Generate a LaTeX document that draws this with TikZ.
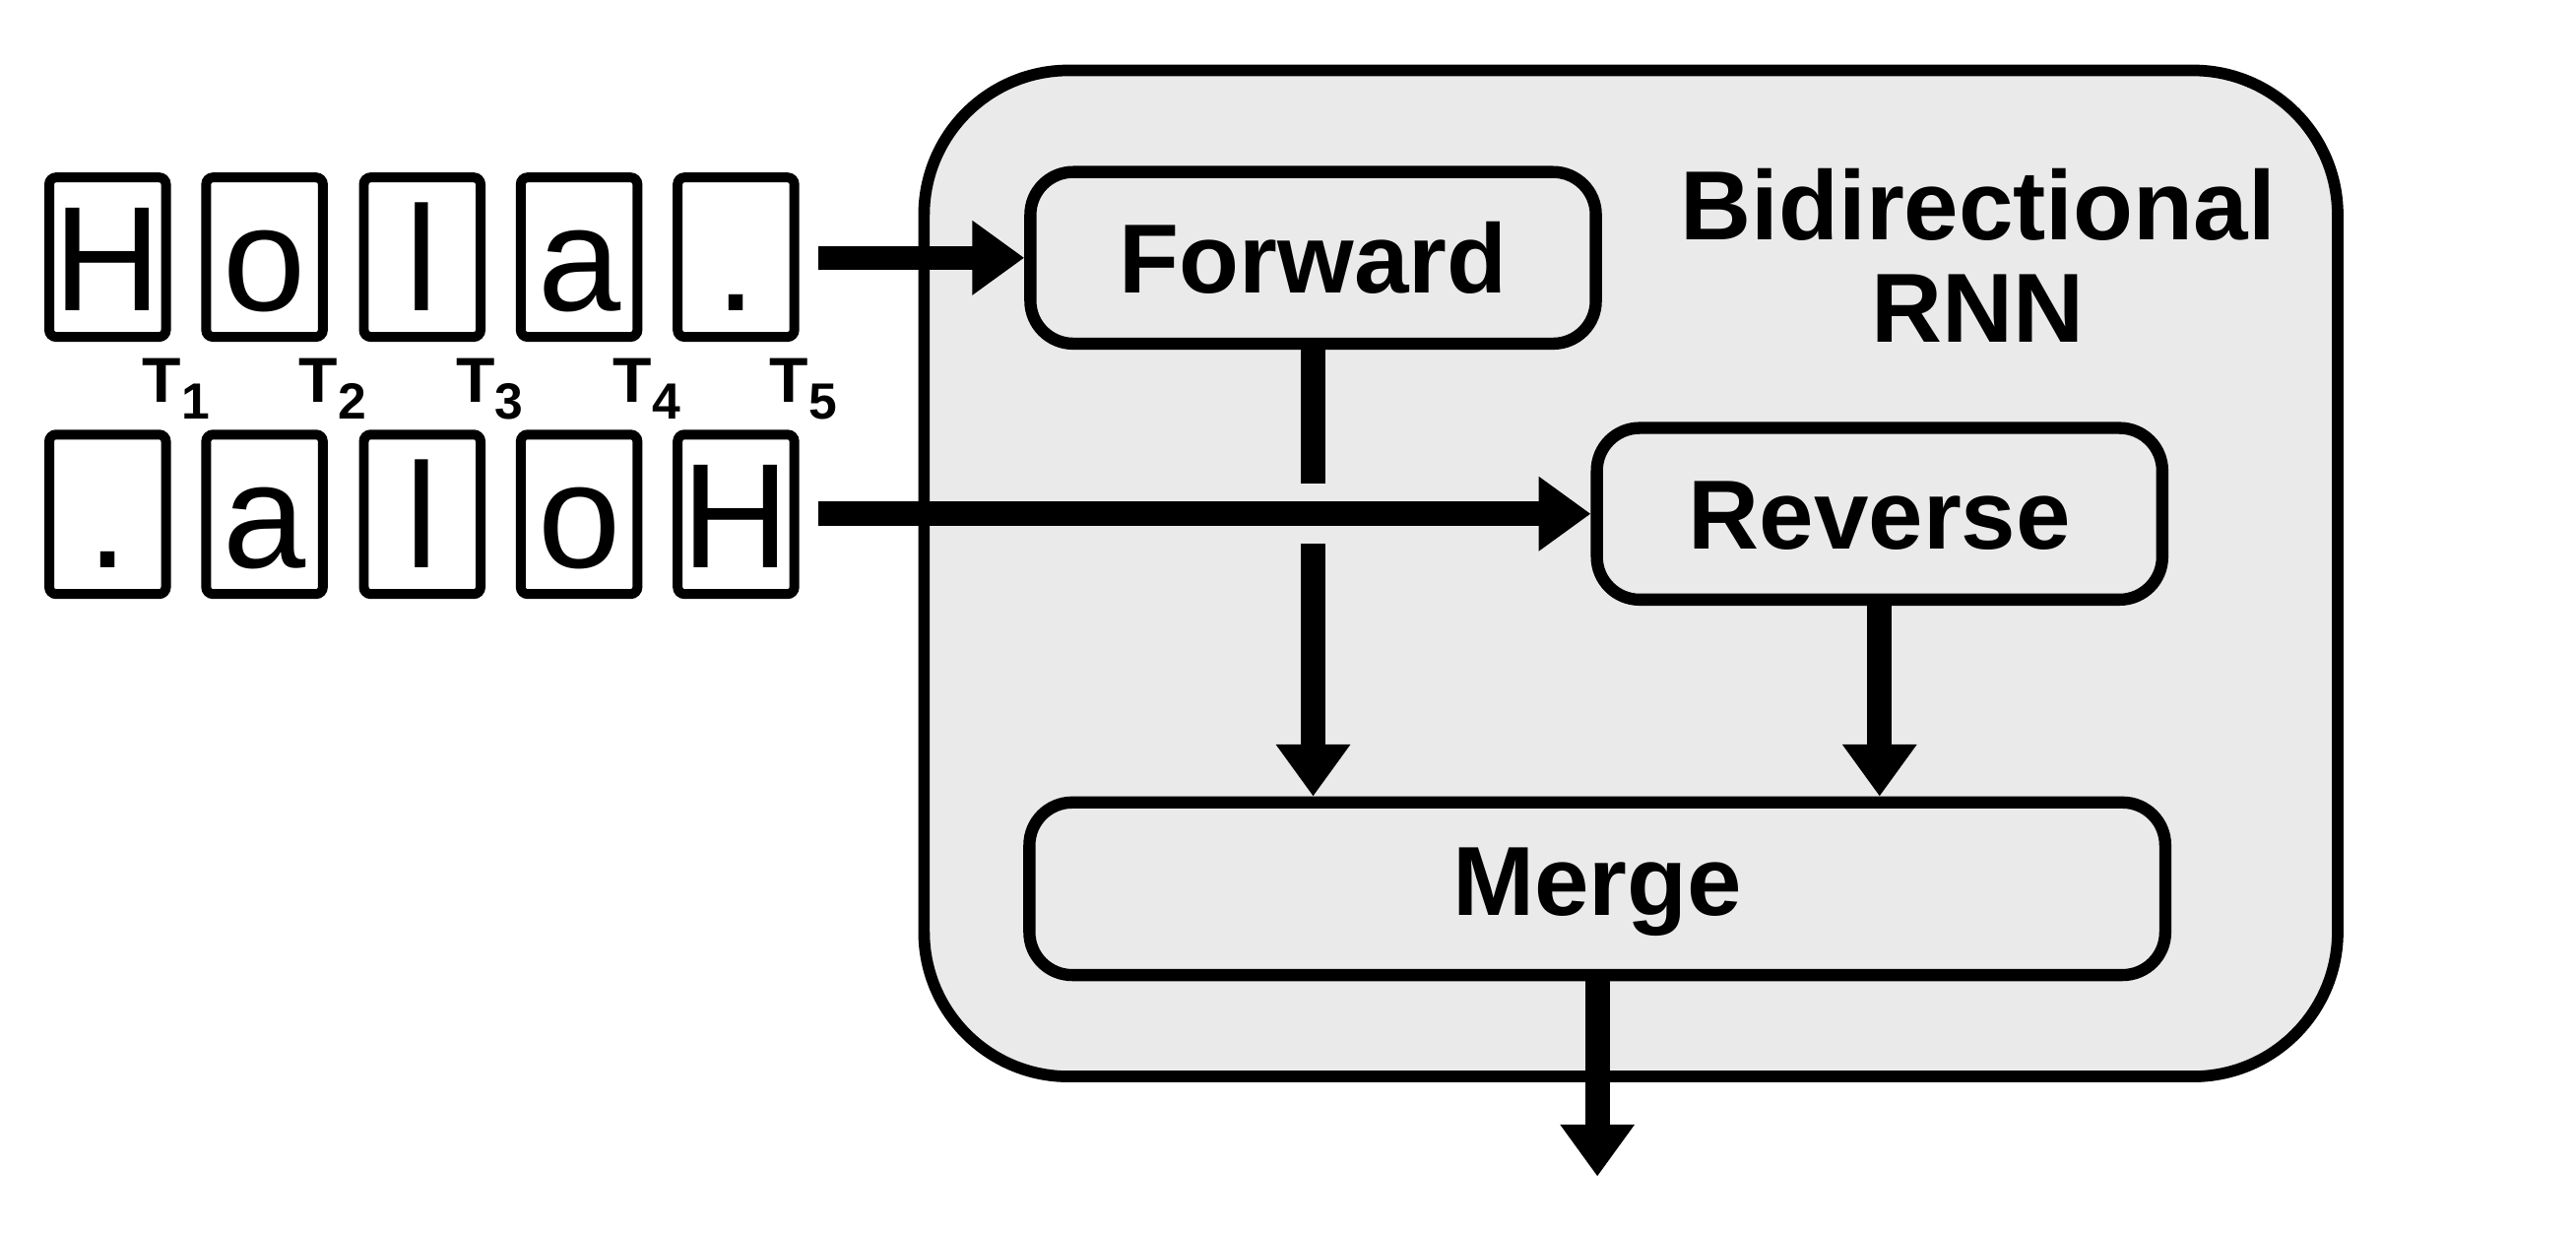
\documentclass[tikz,border=0pt]{standalone}
\usepackage{fontspec}
\setmainfont{Liberation Sans}
\usetikzlibrary{arrows.meta}
\definecolor{bg}{HTML}{EAEAEA}
\begin{document}
\begin{tikzpicture}[x=0.01cm,y=-0.01cm,
 letter/.style={draw, line width=1.7pt, fill=white, rounded corners=1.2pt, minimum width=0.71cm, minimum height=0.97cm, inner sep=0pt, font=\fontsize{25.8}{26}\selectfont, text height=18.5pt, text depth=0pt},
 block/.style={draw, line width=2.1pt, fill=bg, rounded corners=0.26cm, inner sep=0pt, font=\bfseries\fontsize{17}{17.6}\selectfont, text height=12.2pt, text depth=0pt},
 title/.style={anchor=base, inner sep=0pt, font=\bfseries\fontsize{17}{17.6}\selectfont},
 tlab/.style={anchor=base west, inner sep=0pt, font=\bfseries\fontsize{11}{11}\selectfont},
 conn/.style={line width=4.3pt, -{Triangle[length=9pt,width=12.3pt]}},
]
\useasboundingbox (0,0) rectangle (1568,750);
% outer container
\node[draw, line width=2pt, fill=bg, rounded corners=0.88cm, minimum width=8.60cm, minimum height=6.12cm] (rnn) at (992.7,349) {};
\node[title] (title1) at (1204,146) {Bidirectional};
\node[title] (title2) at (1204,208) {RNN};
% blocks
\node[block, minimum width=3.44cm, minimum height=1.044cm] (fwd) at (799.3,156.9) {Forward};
\node[block, minimum width=3.44cm, minimum height=1.044cm] (rev) at (1144.1,312.7) {Reverse};
\node[block, minimum width=6.91cm, minimum height=1.05cm, text depth=2.84pt] (mrg) at (972.3,540.9) {Merge};
% letters
\node[letter] (a1) at (65.5,156.5) {H};
\node[letter] (a2) at (161,156.5) {o};
\node[letter] (a3) at (257,156.5) {l};
\node[letter] (a4) at (352.5,156.5) {a};
\node[letter] (a5) at (448,156.5) {.};
\node[letter] (b1) at (65.5,313) {.};
\node[letter] (b2) at (161,313) {a};
\node[letter] (b3) at (257,313) {l};
\node[letter] (b4) at (352.5,313) {o};
\node[letter] (b5) at (448,313) {H};
% time labels
\node[tlab] (t1) at (86,245) {T\raisebox{-2.85pt}{\fontsize{8.8}{8.8}\selectfont 1}};
\node[tlab] (t2) at (181.5,245) {T\raisebox{-2.85pt}{\fontsize{8.8}{8.8}\selectfont 2}};
\node[tlab] (t3) at (277,245) {T\raisebox{-2.85pt}{\fontsize{8.8}{8.8}\selectfont 3}};
\node[tlab] (t4) at (372.5,245) {T\raisebox{-2.85pt}{\fontsize{8.8}{8.8}\selectfont 4}};
\node[tlab] (t5) at (468,245) {T\raisebox{-2.85pt}{\fontsize{8.8}{8.8}\selectfont 5}};
% connectors
\coordinate (in1) at (498,156.9);
\coordinate (in2) at (498,312.7);
\draw[conn, line width=4.15pt] (in1) -- (fwd.west);
\draw[conn, line width=4.3pt] (in2) -- (rev.west);
\coordinate (g1) at (799.3,294);
\coordinate (g2) at (799.3,331);
\draw[line width=4.3pt] (fwd.south) -- (g1);
\draw[conn] (g2) -- (g2 |- mrg.north);
\draw[conn] (rev.south) -- (rev.south |- mrg.north);
\coordinate (out) at (972.3,716);
\draw[conn] (mrg.south) -- (out);
\end{tikzpicture}
\end{document}
